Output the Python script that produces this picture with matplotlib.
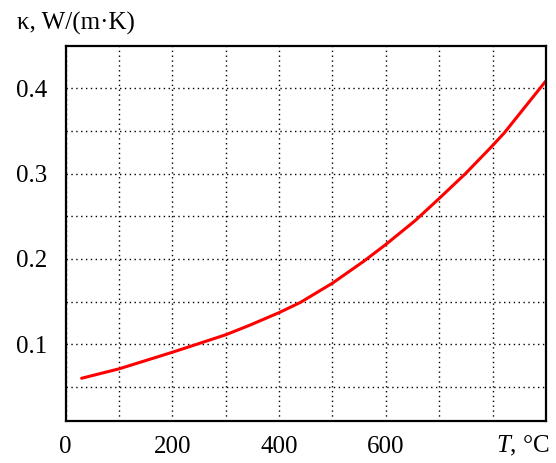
import matplotlib
matplotlib.use('Agg')
import matplotlib.pyplot as plt
import numpy as np

plt.rcParams['font.family'] = 'Liberation Serif'
plt.rcParams['mathtext.fontset'] = 'custom'
plt.rcParams['mathtext.rm'] = 'Liberation Serif'
plt.rcParams['mathtext.it'] = 'Liberation Serif:italic'

# values
temp = [30, 100, 200, 300, 346, 400, 440, 500, 558, 600, 655, 700, 749,
        800, 822, 900]
kappa = [0.060, 0.071, 0.0905, 0.111, 0.1225, 0.137, 0.149, 0.1716, 0.197,
         0.217, 0.245, 0.271, 0.300, 0.333, 0.348, 0.409]

x_ticks = [0, 200, 400, 600, 800]
x_labels = ['0', '200', '400', '600', '']
y_ticks = [0.1, 0.2, 0.3, 0.4]
y_labels = ['0.1', '0.2', '0.3', '0.4']

fig = plt.figure(figsize=(5.56, 4.63), dpi=100)
ax = fig.add_axes([0.118, 0.091, 0.864, 0.810])

ax.plot(temp, kappa, color='#ff0000', lw=2.2, solid_capstyle='round',
        solid_joinstyle='round')

ax.set_xlim(0, 900)
ax.set_ylim(0.01, 0.45)
ax.set_xticks(x_ticks)
ax.set_xticklabels(x_labels)
ax.set_xticks(np.arange(100, 900, 100), minor=True)
ax.set_yticks(y_ticks)
ax.set_yticklabels(y_labels)
ax.set_yticks(np.arange(0.05, 0.45, 0.05), minor=True)
ax.tick_params(which='both', length=0, labelsize=18)
ax.tick_params(axis='x', pad=11)
ax.tick_params(axis='y', pad=13)
ax.grid(True, which='both', color='black', ls=(0, (1, 2.5)), lw=1.0)

for s in ax.spines.values():
    s.set_linewidth(1.6)
    s.set_color('black')

ax.text(1.008, -0.066, '$T$, °C', transform=ax.transAxes, ha='right',
        va='center', fontsize=18)
fig.text(0.03, 0.95, 'κ, W/(m·K)', ha='left', va='center', fontsize=18)

fig.savefig('out.png', dpi=100)
